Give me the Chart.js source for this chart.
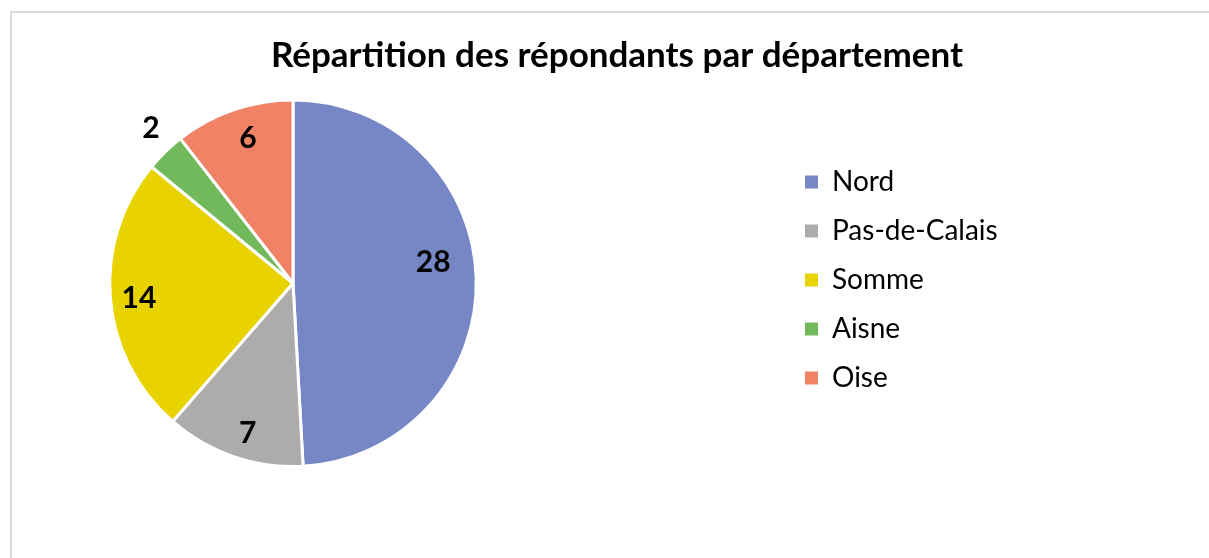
<!DOCTYPE html>
<html lang="fr">
<head>
<meta charset="utf-8">
<title>Répartition des répondants par département</title>
<script src="https://cdn.jsdelivr.net/npm/chart.js@4/dist/chart.umd.min.js"></script>
<style>
  html, body { margin: 0; padding: 0; background: #fff; overflow: hidden; }
  .frame {
    position: absolute; left: 10px; top: 11px;
    width: 1400px; height: 800px;
    border-left: 2px solid #d9d9d9; border-top: 2px solid #d9d9d9;
  }
  .wrap { position: absolute; left: 0; top: 0; width: 1209px; height: 558px; }
</style>
</head>
<body>
<div class="frame"></div>
<div class="wrap"><canvas id="pieChart"></canvas></div>
<script>
// données du graphique
const departements = ["Nord", "Pas-de-Calais", "Somme", "Aisne", "Oise"];
const repondants = [28, 7, 14, 2, 6];
const couleurs = ["#7787c6", "#aeabab", "#e8d300", "#72b95c", "#f08266"];
const titre = "Répartition des répondants par département";

// boîte vide entre le camembert et la légende
const spacer = {
    position: 'right',
    weight: 0,
    fullSize: false,
    options: {},
    width: 0, height: 0, left: 0, top: 0, right: 0, bottom: 0,
    isHorizontal() { return false; },
    update(maxWidth, maxHeight) { this.width = 306; this.height = maxHeight; },
    draw() {}
};

const layoutPlugin = {
    id: 'layoutPlugin',
    beforeInit(chart) {
        const legend = chart.legend;
        const fit = legend.fit;
        legend.fit = function () { fit.call(this); this.width = 342; };
        Chart.layouts.addBox(chart, spacer);
    }
};

// étiquettes de valeurs sur les parts
const valueLabels = {
    id: 'valueLabels',
    afterDatasetsDraw(chart, args, opts) {
        const ctx = chart.ctx;
        const meta = chart.getDatasetMeta(0);
        ctx.save();
        ctx.font = opts.font;
        ctx.fillStyle = '#000';
        ctx.textAlign = 'center';
        ctx.textBaseline = 'middle';
        meta.data.forEach((arc, i) => {
            const p = arc.getProps(['x', 'y', 'startAngle', 'endAngle', 'outerRadius'], true);
            const place = opts.placement[i];
            const a = (p.startAngle + p.endAngle) / 2 + place.da * Math.PI / 180;
            const r = p.outerRadius * place.r;
            ctx.fillText(String(chart.data.datasets[0].data[i]), p.x + Math.cos(a) * r, p.y + Math.sin(a) * r);
        });
        ctx.restore();
    }
};

const baseLabels = Chart.overrides.doughnut.plugins.legend.labels.generateLabels;

new Chart(document.getElementById('pieChart'), {
    type: 'pie',
    data: {
        labels: departements,
        datasets: [{
            data: repondants,
            backgroundColor: couleurs,
            borderColor: '#ffffff',
            borderWidth: 3
        }]
    },
    options: {
        responsive: true,
        maintainAspectRatio: false,
        animation: false,
        layout: { padding: { top: 20, left: 108, right: 83, bottom: 90 } },
        plugins: {
            title: {
                display: true,
                text: titre,
                color: '#000',
                font: { family: 'Lato', size: 35, weight: 'bold', lineHeight: 1.1 },
                padding: { top: 16, bottom: 24 }
            },
            legend: {
                position: 'right',
                align: 'center',
                title: { display: true, text: '', font: { size: 60, lineHeight: 1.2 }, padding: 0 },
                labels: {
                    color: '#000',
                    font: { family: 'Lato', size: 28 },
                    boxWidth: 13,
                    boxHeight: 13,
                    padding: 21,
                    generateLabels(chart) {
                        return baseLabels(chart).map(l => Object.assign(l, { lineWidth: 0, strokeStyle: 'rgba(0,0,0,0)' }));
                    }
                }
            },
            tooltip: { enabled: false },
            valueLabels: {
                font: 'bold 30px Lato',
                placement: [
                    { r: 0.774, da: -7 },
                    { r: 0.856, da: -2.2 },
                    { r: 0.845, da: -0.9 },
                    { r: 1.148, da: 1.7 },
                    { r: 0.83, da: 1.75 }
                ]
            }
        }
    },
    plugins: [layoutPlugin, valueLabels]
});
</script>
</body>
</html>
